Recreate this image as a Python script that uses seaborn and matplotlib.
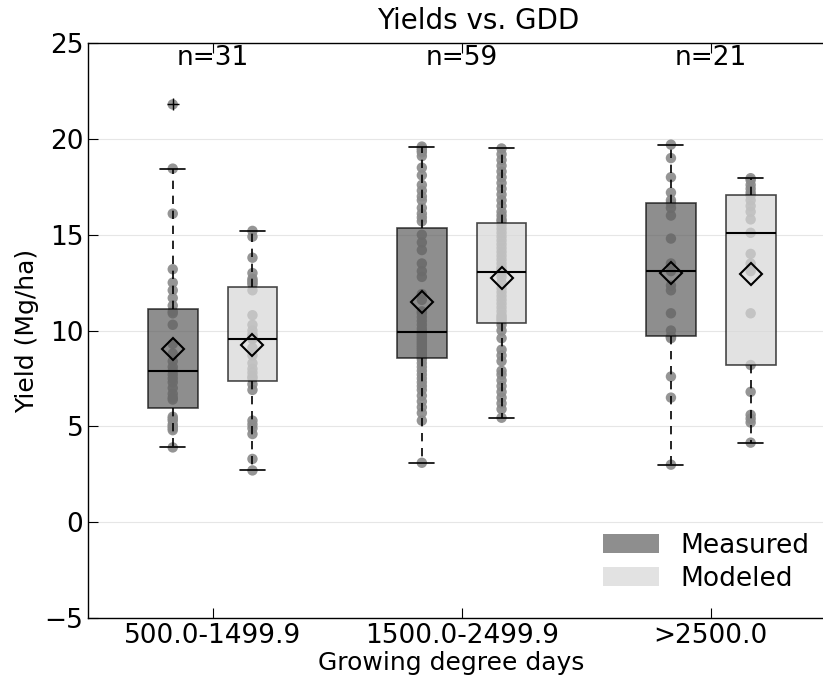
import numpy as np
import pandas as pd
import matplotlib
matplotlib.use("Agg")
import matplotlib.pyplot as plt
from matplotlib.patches import Patch
import seaborn as sns

# yield values (Mg/ha), per GDD bin
gdd_bins = ["500.0-1499.9", "1500.0-2499.9", ">2500.0"]
sources = ["Measured", "Modeled"]

measured_low = [3.9, 4.8, 4.9, 5.0, 5.1, 5.3, 5.4, 5.5, 6.4,
                6.5, 6.7, 7.0, 7.3, 7.5, 7.7, 7.9,
                8.1, 8.4, 8.8, 9.3, 10.3, 10.9, 11.0, 11.3,
                11.7, 12.1, 12.5, 13.2, 16.1, 18.45, 21.8]
modeled_low = [2.7, 3.3, 4.6, 4.9, 5.1, 5.3, 6.9, 7.2, 7.5,
               7.6, 7.8, 8.0, 8.3, 8.7, 9.1, 9.55,
               9.6, 9.7, 9.8, 10.0, 10.3, 10.8, 12.1, 12.4,
               12.5, 12.6, 12.7, 13.0, 13.8, 14.9, 15.2]

measured_mid = [3.1, 5.3, 5.7, 6.0, 6.3, 6.6, 6.9, 7.1, 7.3, 7.5, 7.7, 7.9, 8.1, 8.3, 8.5, 8.6,
                8.7, 8.8, 8.9, 9.0, 9.1, 9.2, 9.3, 9.4, 9.5, 9.6, 9.7, 9.8, 9.9, 9.95,
                10.1, 10.3, 10.5, 10.7, 10.9, 11.0, 11.6, 11.9, 12.8, 13.1, 13.5, 14.2, 14.6, 15.0,
                15.7, 15.9, 16.1, 16.4, 16.8, 17.0, 17.3, 17.6, 18.1, 18.5, 19.1, 19.3, 19.4, 19.5, 19.6]
modeled_mid = [5.45, 5.9, 6.2, 6.5, 6.8, 7.1, 7.4, 7.7, 7.9, 8.4, 8.7, 9.0, 9.6, 10.0, 10.3, 10.5,
               10.6, 10.7, 10.8, 11.0, 11.2, 11.4, 11.6, 11.8, 12.0, 12.2, 12.5, 12.8, 13.0, 13.05,
               13.1, 13.2, 13.3, 13.5, 13.7, 13.9, 14.1, 14.3, 14.5, 14.7, 14.9, 15.1, 15.3, 15.5,
               15.7, 15.8, 16.0, 16.2, 16.5, 16.8, 17.1, 17.4, 17.7, 18.0, 18.3, 18.6, 18.9, 19.2, 19.5]

measured_high = [3.0, 6.5, 7.6, 9.6, 9.65, 9.7, 10.0, 10.9, 12.1, 12.35, 13.1,
                 13.5, 14.8, 16.0, 16.4, 16.65, 16.8, 17.2, 18.0, 19.0, 19.7]
modeled_high = [4.15, 5.2, 5.4, 5.6, 6.8, 8.2, 10.9, 13.1, 13.5, 14.0, 15.1,
                15.8, 16.2, 16.5, 16.8, 17.05, 17.2, 17.4, 17.6, 17.85, 17.95]

fill_colors = {"Measured": "#5e5e5e", "Modeled": "#d7d7d7"}

rows = []
for b, meas, mod in zip(gdd_bins, [measured_low, measured_mid, measured_high],
                        [modeled_low, modeled_mid, modeled_high]):
    rows += [(b, "Measured", v) for v in meas]
    rows += [(b, "Modeled", v) for v in mod]
df = pd.DataFrame(rows, columns=["gdd", "source", "yield"])

sns.set_style("ticks")
plt.rcParams["font.family"] = ["DejaVu Sans"]
for k in ["text.color", "axes.labelcolor", "xtick.color", "ytick.color"]:
    plt.rcParams[k] = "black"

fig = plt.figure(figsize=(8.23, 6.84), dpi=100)
ax = fig.add_axes([0.107, 0.0965, 0.908, 0.8405])

sns.stripplot(data=df, x="gdd", y="yield", hue="source", order=gdd_bins,
              hue_order=sources, dodge=True, jitter=False,
              palette={"Measured": "#8a8a8a", "Modeled": "#8a8a8a"},
              size=7.5, alpha=0.9, linewidth=0, legend=False, ax=ax, zorder=1)
# stripplot dodges by 0.2, the boxes sit at 0.16 -> pull dots in
for coll in ax.collections:
    offs = np.asarray(coll.get_offsets()).copy()
    c = np.round(offs[:, 0])
    offs[:, 0] = c + (offs[:, 0] - c) * 0.8
    coll.set_offsets(offs)

sns.boxplot(data=df, x="gdd", y="yield", hue="source", order=gdd_bins,
            hue_order=sources, palette=fill_colors, width=0.64, gap=0.375,
            linecolor="black", linewidth=1.2, showmeans=True,
            whiskerprops=dict(linestyle=(0, (5, 4))),
            medianprops=dict(linewidth=1.5),
            meanprops=dict(marker="D", markerfacecolor="none",
                           markeredgecolor="black", markersize=11,
                           markeredgewidth=1.5),
            flierprops=dict(marker="+", markeredgecolor="black", markersize=8),
            legend=False, ax=ax)
for p in ax.patches:
    p.set_alpha(0.7)

# sample counts on top
for i, b in enumerate(gdd_bins):
    n = (df[(df.gdd == b) & (df.source == "Measured")]).shape[0]
    ax.text(i, 24.2, "n=%d" % n, ha="center", va="center", fontsize=19)

ax.set_xlim(-0.5, 2.5)
ax.set_ylim(-5, 25)
ax.set_yticks(range(-5, 26, 5))
ax.yaxis.grid(True, color="#e6e6e6", linewidth=0.8)
ax.set_axisbelow(True)
ax.tick_params(direction="in", top=True, right=False, length=7, labelsize=19)
for s in ax.spines.values():
    s.set_color("black")
    s.set_linewidth(1.0)
ax.spines["right"].set_visible(False)

ax.set_xlabel("Growing degree days", fontsize=18)
ax.xaxis.set_label_coords(0.486, -0.058)
ax.set_ylabel("Yield (Mg/ha)", fontsize=18)
ax.set_title("Yields vs. GDD", fontsize=20, x=0.522, pad=10)

handles = [Patch(facecolor=fill_colors[s], alpha=0.7, edgecolor="none", label=s)
           for s in sources]
ax.legend(handles=handles, loc="lower right", frameon=False, fontsize=19,
          handlelength=2.1, handleheight=0.72, labelspacing=0.25,
          borderaxespad=0.6)

fig.savefig("out.png", dpi=100)
